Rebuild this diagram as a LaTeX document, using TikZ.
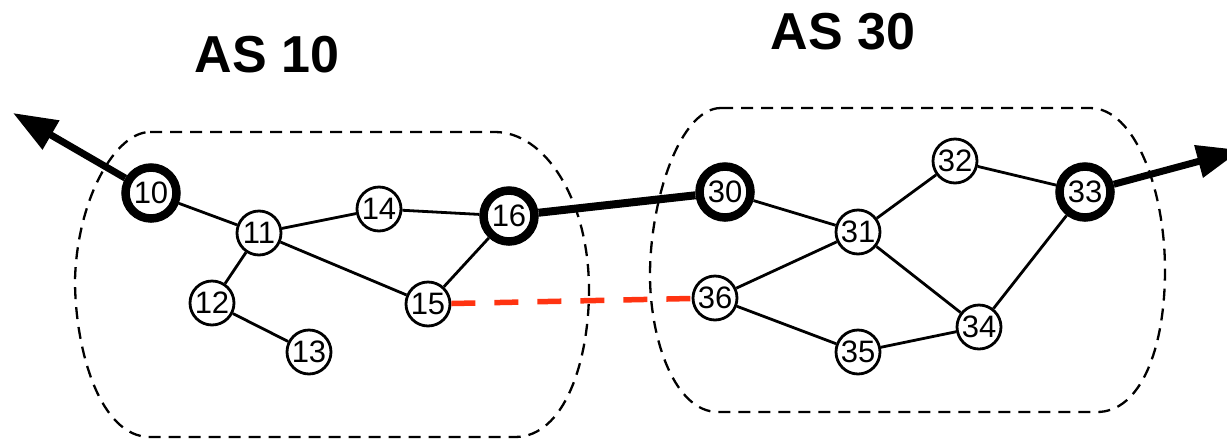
\documentclass[tikz,border=0pt]{standalone}
\usepackage{fontspec}
\setmainfont{Liberation Sans}
\usetikzlibrary{arrows.meta}
\definecolor{linkred}{RGB}{255,51,17}
\begin{document}
\begin{tikzpicture}[x=1pt,y=-1pt,
  rtr/.style={circle,draw=black,fill=white,line width=2.8pt,minimum size=44pt,inner sep=0pt,font=\fontsize{31}{31}\selectfont},
  brd/.style={rtr,line width=8.5pt,minimum size=51pt},
  link/.style={line width=2.8pt},
  blink/.style={line width=8pt},
  ext/.style={line width=7pt,-{Triangle[length=44pt,width=32pt]}},
  peer/.style={line width=5.5pt,draw=linkred,dash pattern=on 24pt off 19pt},
  asbox/.style={line width=2.3pt,dash pattern=on 12pt off 8pt},
  title/.style={font=\fontsize{52}{52}\selectfont\bfseries}]
\useasboundingbox (0,0) rectangle (1227,440);
% AS boxes
\draw[asbox] (150,132) -- (495,132) .. controls (545,132) and (589,200) .. (589,290)
  .. controls (589,360) and (565,437) .. (515,437) -- (150,437)
  .. controls (100,437) and (75,350) .. (75,280) .. controls (77,200) and (115,132) .. (150,132) -- cycle;
\draw[asbox] (721,108) -- (1090,108) .. controls (1135,108) and (1165,190) .. (1165,270)
  .. controls (1165,350) and (1140,412) .. (1097,412) -- (718,412)
  .. controls (675,412) and (650,340) .. (650,275) .. controls (650,200) and (680,108) .. (721,108) -- cycle;
% titles
\node[title] (t10) at (267,55) {AS 10};
\node[title] (t30) at (843,32) {AS 30};
% nodes
\node[brd] (n10) at (151,193) {10};
\node[rtr] (n11) at (259,233) {11};
\node[rtr] (n14) at (379,209) {14};
\node[brd] (n16) at (509,216) {16};
\node[rtr] (n12) at (212,303) {12};
\node[rtr] (n13) at (309,352) {13};
\node[rtr] (n15) at (428,304) {15};
\node[brd] (n30) at (725,192) {30};
\node[rtr] (n31) at (858,232) {31};
\node[rtr] (n32) at (955,161) {32};
\node[brd] (n33) at (1085,192) {33};
\node[rtr] (n36) at (715,298) {36};
\node[rtr] (n35) at (858,352) {35};
\node[rtr] (n34) at (979,327) {34};
\coordinate (o10) at (13,113);
\coordinate (o33) at (1241,150);
% links
\draw[link] (n10) -- (n11);
\draw[link] (n11) -- (n14);
\draw[link] (n14) -- (n16);
\draw[link] (n11) -- (n12);
\draw[link] (n12) -- (n13);
\draw[link] (n11) -- (n15);
\draw[link] (n15) -- (n16);
\draw[link] (n30) -- (n31);
\draw[link] (n31) -- (n32);
\draw[link] (n32) -- (n33);
\draw[link] (n31) -- (n36);
\draw[link] (n31) -- (n34);
\draw[link] (n36) -- (n35);
\draw[link] (n35) -- (n34);
\draw[link] (n34) -- (n33);
\draw[blink] (n16) -- (n30);
\draw[peer] (n15) -- (n36);
\draw[ext] (n10) -- (o10);
\draw[ext] (n33) -- (o33);
\end{tikzpicture}
\end{document}
